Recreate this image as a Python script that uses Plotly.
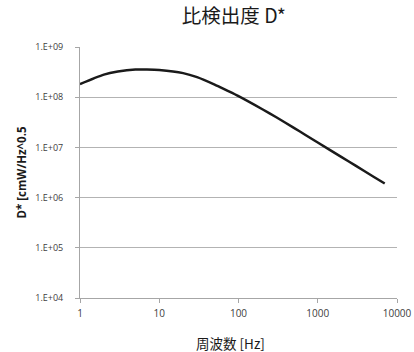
import plotly.graph_objects as go

freq_hz = [1, 2, 3, 5, 7, 10, 20, 30, 50, 70, 100, 200, 300, 500, 700, 1000, 2000, 3000, 5000, 7000]
d_star = [1.82e8, 2.82e8, 3.24e8, 3.55e8, 3.55e8, 3.47e8, 3.02e8, 2.51e8, 1.78e8, 1.38e8,
          1.05e8, 5.75e7, 3.98e7, 2.45e7, 1.77e7, 1.25e7, 6.40e6, 4.33e6, 2.63e6, 1.91e6]

x_tickvals = [1, 10, 100, 1000, 10000]
x_ticktext = ["1", "10", "100", "1000", "10000"]
y_tickvals = [1e4, 1e5, 1e6, 1e7, 1e8, 1e9]
y_ticktext = ["1.E+04", "1.E+05", "1.E+06", "1.E+07", "1.E+08", "1.E+09"]

fig = go.Figure()
fig.add_trace(go.Scatter(
    x=freq_hz, y=d_star, mode="lines",
    line=dict(color="#1a1a1a", width=2.5, shape="spline", smoothing=0.7),
    showlegend=False, hoverinfo="skip",
))

fig.update_layout(
    width=414, height=352,
    margin=dict(l=80, r=17, t=47, b=54, autoexpand=False),
    paper_bgcolor="white", plot_bgcolor="white",
    title=dict(text="比検出度 D*", x=0.565, xanchor="center", y=0.955, yanchor="middle",
               font=dict(family="Noto Sans CJK JP", size=19.5, color="#1a1a1a")),
    font=dict(family="Open Sans", color="#404040"),
    annotations=[dict(text="周波数 [Hz]", xref="paper", yref="paper", x=0.475, y=-0.179,
                      xanchor="center", yanchor="middle", showarrow=False,
                      font=dict(family="Noto Sans CJK JP", size=13.5, color="#1a1a1a"))],
)

fig.update_xaxes(
    type="log", range=[0, 4], automargin=False,
    tickvals=x_tickvals, ticktext=x_ticktext,
    tickfont=dict(family="Open Sans", size=10, color="#404040"),
    ticks="outside", ticklen=4, tickcolor="#a6a6a6",
    showgrid=False, showline=True, linecolor="#a6a6a6", linewidth=1,
    zeroline=False, ticklabelstandoff=2,
)

fig.update_yaxes(
    type="log", range=[4, 9], automargin=False,
    tickvals=y_tickvals, ticktext=y_ticktext,
    tickfont=dict(family="Open Sans", size=9, color="#404040"),
    ticks="outside", ticklen=4, tickcolor="#a6a6a6",
    showgrid=True, gridcolor="#b3b3b3", gridwidth=1,
    showline=True, linecolor="#a6a6a6", linewidth=1,
    zeroline=False, ticklabelstandoff=10,
    title=dict(text="<b>D* [cmW/Hz^0.5</b>", font=dict(family="Open Sans", size=11.5, color="#1a1a1a"),
               standoff=6),
)

fig.write_html("out.html", config={"displayModeBar": False},
               post_script="document.body.style.margin='0';")
